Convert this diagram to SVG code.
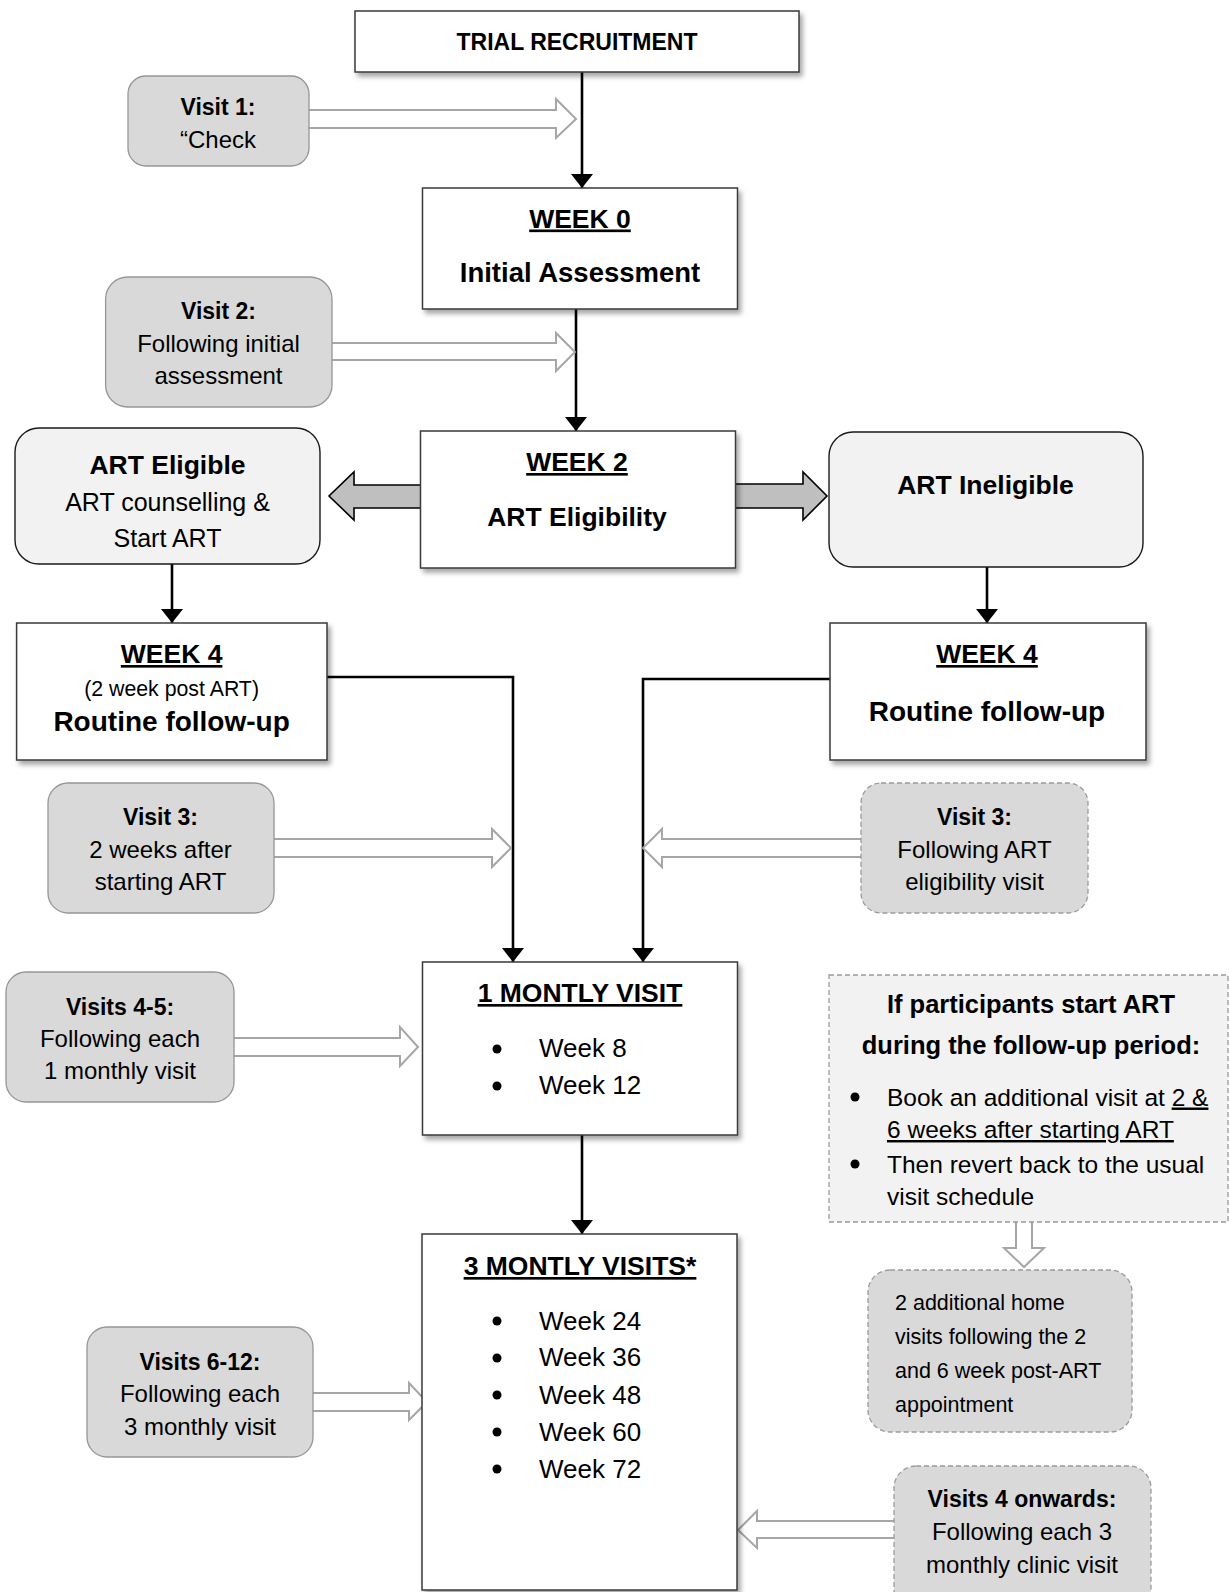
<svg xmlns="http://www.w3.org/2000/svg" width="1229" height="1592" viewBox="0 0 1229 1592">
<style>
  text { font-family: 'Liberation Sans', Arial, sans-serif; fill: #000; }
  .c { text-anchor: middle; }
  .h { font-weight: bold; font-size: 26.5px; }
  .hl { font-size: 28px; }
  .vb { font-weight: bold; font-size: 23px; }
  .vr { font-size: 24px; }
  .main { fill: #fff; stroke: #3a3a3a; stroke-width: 1.5; }
  .visit { fill: #d9d9d9; stroke: #969696; stroke-width: 1.3; }
  .visitd { fill: #d9d9d9; stroke: #9a9a9a; stroke-width: 1.3; stroke-dasharray: 5 3; }
  .light { fill: #f2f2f2; stroke: #1a1a1a; stroke-width: 1.4; }
  .lightd { fill: #f2f2f2; stroke: #9a9a9a; stroke-width: 1.3; stroke-dasharray: 5 3; }
  .conn { fill: none; stroke: #000; stroke-width: 2.6; }
  .hollow { fill: #fff; stroke: #a6a6a6; stroke-width: 2; }
  .block { fill: #bfbfbf; stroke: #000; stroke-width: 1.6; }
  .u { text-decoration: underline; }
</style>
<defs>
  <filter id="sh" x="-10%" y="-10%" width="130%" height="130%">
    <feDropShadow dx="3" dy="4" stdDeviation="2.5" flood-color="#000" flood-opacity="0.35"/>
  </filter>
  <marker id="ah" viewBox="0 0 14 22" refX="14" refY="11" markerWidth="14" markerHeight="22" markerUnits="userSpaceOnUse" orient="auto">
    <path d="M0,0 L14,11 L0,22 z" fill="#000"/>
  </marker>
</defs>

<g id="connectors">
  <path class="conn" d="M582,72 V188" marker-end="url(#ah)"/>
  <path class="conn" d="M576,309 V431" marker-end="url(#ah)"/>
  <path class="conn" d="M172,564 V623" marker-end="url(#ah)"/>
  <path class="conn" d="M987,567 V623" marker-end="url(#ah)"/>
  <path class="conn" d="M327,677 H513 V962" marker-end="url(#ah)"/>
  <path class="conn" d="M830,679 H643 V962" marker-end="url(#ah)"/>
  <path class="conn" d="M582,1135 V1234" marker-end="url(#ah)"/>
  <!-- hollow arrows -->
  <path class="hollow" d="M309,110 H556 V99 L576,119 L556,138 V128 H309"/>
  <path class="hollow" d="M332,343 H556 V333 L575,352 L556,371 V360 H332"/>
  <path class="hollow" d="M274,839 H492 V829 L511,848 L492,867 V857 H274"/>
  <path class="hollow" d="M861,839 H662 V829 L643,848 L662,867 V857 H861"/>
  <path class="hollow" d="M234,1038 H400 V1027 L418,1047 L400,1066 V1056 H234"/>
  <path class="hollow" d="M313,1393 H409 V1383 L427,1402 L409,1420 V1411 H313"/>
  <path class="hollow" d="M894,1521 H757 V1511 L738,1530 L757,1548 V1538 H894"/>
  <path class="hollow" d="M1016,1222 V1248 H1004 L1024,1267 L1044,1248 H1032 V1222"/>
  <!-- block arrows -->
  <path class="block" d="M420.5,485 H354 V472 L329,496 L354,520 V508 H420.5"/>
  <path class="block" d="M735.5,484 H803 V472 L827,496 L803,520 V508 H735.5"/>
</g>

<g id="trial">
  <rect class="main" x="355" y="11" width="444" height="61" filter="url(#sh)"/>
  <text class="c" x="577" y="50" font-weight="bold" font-size="23">TRIAL RECRUITMENT</text>
</g>

<g id="visit1">
  <rect class="visit" x="128" y="76" width="181" height="90" rx="18"/>
  <text class="c vb" x="218" y="115">Visit 1:</text>
  <text class="c vr" x="218" y="148">“Check</text>
</g>

<g id="week0">
  <rect class="main" x="422.5" y="188" width="315" height="121" filter="url(#sh)"/>
  <text class="c h u" x="580" y="227.5">WEEK 0</text>
  <text class="c h" x="580" y="282" style="font-size:27.5px">Initial Assessment</text>
</g>

<g id="visit2">
  <rect class="visit" x="105.6" y="277" width="226.4" height="130" rx="22"/>
  <text class="c vb" x="218.5" y="319">Visit 2:</text>
  <text class="c vr" x="218.5" y="351.5">Following initial</text>
  <text class="c vr" x="218.5" y="384">assessment</text>
</g>

<g id="week2">
  <rect class="main" x="420.5" y="431" width="315" height="137" filter="url(#sh)"/>
  <text class="c h u" x="577" y="471">WEEK 2</text>
  <text class="c h" x="577" y="526">ART Eligibility</text>
</g>

<g id="art-eligible">
  <rect class="light" x="15" y="428" width="305" height="136" rx="24"/>
  <text class="c h" x="167.5" y="474">ART Eligible</text>
  <text class="c" x="167.5" y="510.5" font-size="25">ART counselling &amp;</text>
  <text class="c" x="167.5" y="547" font-size="25">Start ART</text>
</g>

<g id="art-ineligible">
  <rect class="light" x="829" y="432" width="314" height="135" rx="24"/>
  <text class="c h" x="985.5" y="494">ART Ineligible</text>
</g>

<g id="week4-left">
  <rect class="main" x="16.6" y="623" width="310.4" height="137" filter="url(#sh)"/>
  <text class="c h u" x="171.6" y="663">WEEK 4</text>
  <text class="c" x="171.6" y="695.5" font-size="21.3">(2 week post ART)</text>
  <text class="c h" x="171.6" y="731" style="font-size:28px">Routine follow-up</text>
</g>

<g id="week4-right">
  <rect class="main" x="830" y="623" width="316" height="137" filter="url(#sh)"/>
  <text class="c h u" x="987" y="663">WEEK 4</text>
  <text class="c h" x="987" y="721" style="font-size:28px">Routine follow-up</text>
</g>

<g id="visit3-left">
  <rect class="visit" x="48" y="783" width="226" height="130" rx="20"/>
  <text class="c vb" x="160.5" y="825">Visit 3:</text>
  <text class="c vr" x="160.5" y="857.5">2 weeks after</text>
  <text class="c vr" x="160.5" y="890">starting ART</text>
</g>

<g id="visit3-right">
  <rect class="visitd" x="861" y="783" width="227" height="130" rx="20"/>
  <text class="c vb" x="974.5" y="825">Visit 3:</text>
  <text class="c vr" x="974.5" y="857.5">Following ART</text>
  <text class="c vr" x="974.5" y="890">eligibility visit</text>
</g>

<g id="monthly1">
  <rect class="main" x="422.5" y="962" width="315" height="173" filter="url(#sh)"/>
  <text class="c h u" x="580" y="1002">1 MONTLY VISIT</text>
  <circle cx="497" cy="1049" r="4.5"/>
  <text x="539" y="1057" font-size="26">Week 8</text>
  <circle cx="497" cy="1086" r="4.5"/>
  <text x="539" y="1094" font-size="26">Week 12</text>
</g>

<g id="visits4-5">
  <rect class="visit" x="6" y="972" width="228" height="130" rx="20"/>
  <text class="c vb" x="120" y="1015">Visits 4-5:</text>
  <text class="c vr" x="120" y="1046.5">Following each</text>
  <text class="c vr" x="120" y="1079">1 monthly visit</text>
</g>

<g id="if-start-art">
  <rect class="lightd" x="829" y="975" width="399" height="247"/>
  <text class="c" x="1031" y="1013" font-weight="bold" font-size="25.5">If participants start ART</text>
  <text class="c" x="1031" y="1054" font-weight="bold" font-size="25.5">during the follow-up period:</text>
  <circle cx="855" cy="1097" r="4.5"/>
  <text x="887" y="1105.5" font-size="24.5">Book an additional visit at <tspan class="u">2 &amp;</tspan></text>
  <text class="u" x="887" y="1138" font-size="24.5">6 weeks after starting ART</text>
  <circle cx="855" cy="1164" r="4.5"/>
  <text x="887" y="1172.5" font-size="24.5">Then revert back to the usual</text>
  <text x="887" y="1205" font-size="24.5">visit schedule</text>
</g>

<g id="monthly3">
  <rect class="main" x="422" y="1234" width="315" height="356" filter="url(#sh)"/>
  <text class="c h u" x="580" y="1275">3 MONTLY VISITS*</text>
  <circle cx="497" cy="1321" r="4.5"/>
  <text x="539" y="1329.5" font-size="26">Week 24</text>
  <circle cx="497" cy="1358" r="4.5"/>
  <text x="539" y="1366" font-size="26">Week 36</text>
  <circle cx="497" cy="1395" r="4.5"/>
  <text x="539" y="1403.5" font-size="26">Week 48</text>
  <circle cx="497" cy="1432" r="4.5"/>
  <text x="539" y="1441" font-size="26">Week 60</text>
  <circle cx="497" cy="1469" r="4.5"/>
  <text x="539" y="1477.5" font-size="26">Week 72</text>
</g>

<g id="home-visits">
  <rect class="visitd" x="868" y="1270" width="264" height="162" rx="22"/>
  <text x="895" y="1310" font-size="21.5">2 additional home</text>
  <text x="895" y="1344" font-size="21.5">visits following the 2</text>
  <text x="895" y="1378" font-size="21.5">and 6 week post-ART</text>
  <text x="895" y="1411.5" font-size="21.5">appointment</text>
</g>

<g id="visits6-12">
  <rect class="visit" x="87" y="1327" width="226" height="130" rx="20"/>
  <text class="c vb" x="200" y="1369.5">Visits 6-12:</text>
  <text class="c vr" x="200" y="1402">Following each</text>
  <text class="c vr" x="200" y="1434.5">3 monthly visit</text>
</g>

<g id="visits4-onwards">
  <rect class="visitd" x="894" y="1466" width="257" height="145" rx="22"/>
  <text class="c vb" x="1022" y="1507">Visits 4 onwards:</text>
  <text class="c vr" x="1022" y="1540">Following each 3</text>
  <text class="c vr" x="1022" y="1572.5">monthly clinic visit</text>
</g>
</svg>
